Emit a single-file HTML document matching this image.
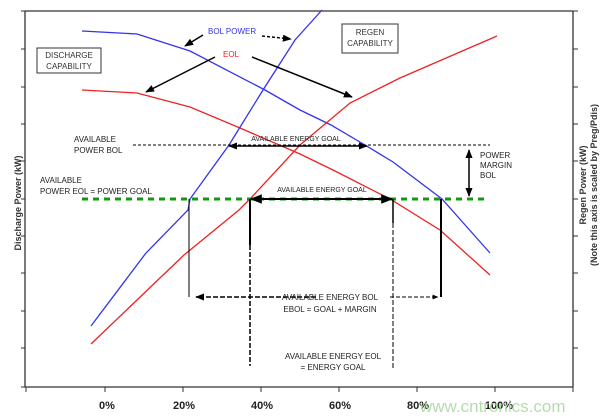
<!DOCTYPE html>
<html><head><meta charset="utf-8"><style>
html,body{margin:0;padding:0;background:#fff}
svg{display:block;font-family:"Liberation Sans",Arial,sans-serif}
</style></head><body>
<svg width="600" height="419" viewBox="0 0 600 419" xmlns="http://www.w3.org/2000/svg">
<defs>
<marker id="ah" viewBox="0 0 10 10" refX="9" refY="5" markerWidth="6" markerHeight="6" orient="auto-start-reverse"><path d="M0,1 L10,5 L0,9 z" fill="#000"/></marker>
</defs>
<!-- axes -->
<g stroke="#333" stroke-width="1.3" fill="none">
<path d="M25,11 H573 M25,11 V387 H573 V11"/>
</g>
<g stroke="#333" stroke-width="1">
<path d="M21,11H25M21,49H25M21,87H25M21,124H25M21,161H25M21,199H25M21,236H25M21,273H25M21,311H25M21,348H25M21,387H25"/>
<path d="M573,11H578M573,49H578M573,87H578M573,124H578M573,161H578M573,199H578M573,236H578M573,273H578M573,311H578M573,348H578"/>
<path d="M26,387V392M105,387V392M183,387V392M261,387V392M339,387V392M417,387V392M495,387V392M573,387V392"/>
</g>
<g font-size="11" font-weight="bold" fill="#222" text-anchor="middle">
<text x="107" y="409">0%</text><text x="184" y="409">20%</text><text x="262" y="409">40%</text>
<text x="340" y="409">60%</text><text x="418" y="409">80%</text><text x="499" y="409">100%</text>
</g>
<text transform="translate(21,203) rotate(-90)" font-size="9" font-weight="bold" fill="#333" text-anchor="middle">Discharge Power (kW)</text>
<text transform="translate(586,185) rotate(-90)" font-size="9" font-weight="bold" fill="#333" text-anchor="middle">Regen Power (kW)</text>
<text transform="translate(597,185) rotate(-90)" font-size="9" font-weight="bold" fill="#333" text-anchor="middle">(Note this axis is scaled by Preg/Pdis)</text>
<!-- curves -->
<g fill="none" stroke-width="1.3">
<polyline stroke="#3333ee" points="82,31 137,34 190,51 265,90 300,110 331,125 365,145 393,162 442,199 490,253"/>
<polyline stroke="#ee2222" points="82,90 137,93 190,107 240,128 300,154 333,170 390,199 440,230 490,275"/>
<polyline stroke="#3333ee" points="91,326 146,253 188,210 190,199 229,145 263,90 295,40 322,10"/>
<polyline stroke="#ee2222" points="91,344 184,255 239,210 250,199 300,145 325,124 350,103 400,78 497,36"/>
</g>
<!-- green goal line -->
<line x1="82" y1="199" x2="487" y2="199" stroke="#119911" stroke-width="3" stroke-dasharray="6,5"/>
<!-- power bol dashed -->
<line x1="133" y1="145" x2="490" y2="145" stroke="#000" stroke-width="1" stroke-dasharray="3,2"/>
<g stroke="#000" stroke-width="1.5" fill="none" marker-end="url(#ah)">
<line x1="300" y1="146" x2="229" y2="146"/>
<line x1="300" y1="146" x2="367" y2="146"/>
<line x1="320" y1="199" x2="251" y2="199" stroke-width="2"/>
<line x1="320" y1="199" x2="392" y2="199" stroke-width="2"/>
<line x1="469" y1="172" x2="469" y2="150"/>
<line x1="469" y1="172" x2="469" y2="196"/>
<line x1="203" y1="35" x2="185" y2="46"/>
<line x1="262" y1="36" x2="291" y2="39" stroke-dasharray="3,2"/>
<line x1="215" y1="57" x2="146" y2="92"/>
<line x1="252" y1="57" x2="352" y2="97"/>
</g>
<!-- verticals -->
<g stroke="#000" fill="none">
<line x1="189" y1="199" x2="189" y2="297" stroke-width="1"/>
<line x1="250" y1="199" x2="250" y2="245" stroke-width="2"/>
<line x1="250" y1="245" x2="250" y2="366" stroke-width="1.5" stroke-dasharray="5,2"/>
<line x1="393" y1="199" x2="393" y2="223" stroke-width="1.5"/>
<line x1="393" y1="223" x2="393" y2="368" stroke-width="1" stroke-dasharray="5,2"/>
<line x1="441" y1="199" x2="441" y2="297" stroke-width="2"/>
<line x1="316" y1="297" x2="196" y2="297" stroke-width="1.5" stroke-dasharray="5,2" marker-end="url(#ah)"/>
<line x1="390" y1="297" x2="438" y2="297" stroke-width="1" stroke-dasharray="4,2" marker-end="url(#ah)"/>
</g>
<!-- boxes -->
<rect x="37" y="48" width="64" height="25" fill="#fff" stroke="#333" stroke-width="1"/>
<text x="69" y="58" font-size="8" fill="#333" text-anchor="middle">DISCHARGE</text>
<text x="69" y="69" font-size="8" fill="#333" text-anchor="middle">CAPABILITY</text>
<rect x="342" y="24" width="56" height="29" fill="#fff" stroke="#333" stroke-width="1"/>
<text x="370" y="35" font-size="8" fill="#333" text-anchor="middle">REGEN</text>
<text x="370" y="46" font-size="8" fill="#333" text-anchor="middle">CAPABILITY</text>
<!-- labels -->
<g font-size="8" fill="#222">
<text x="208" y="34" fill="#3333ee">BOL POWER</text>
<text x="223" y="57" fill="#ee2222">EOL</text>
<text x="74" y="142">AVAILABLE</text>
<text x="74" y="153">POWER  BOL</text>
<text x="40" y="183">AVAILABLE</text>
<text x="40" y="194">POWER  EOL  = POWER GOAL</text>
<text x="296" y="141" text-anchor="middle" font-size="7">AVAILABLE ENERGY GOAL</text>
<text x="322" y="192" text-anchor="middle" font-size="7">AVAILABLE ENERGY GOAL</text>
<text x="480" y="158">POWER</text>
<text x="480" y="168">MARGIN</text>
<text x="480" y="178">BOL</text>
<text x="330" y="300" text-anchor="middle">AVAILABLE ENERGY BOL</text>
<text x="330" y="312" text-anchor="middle">EBOL = GOAL + MARGIN</text>
<text x="333" y="359" text-anchor="middle">AVAILABLE ENERGY EOL</text>
<text x="333" y="370" text-anchor="middle">= ENERGY GOAL</text>
</g>
<text x="420" y="412" font-size="17" fill="#a8d8a0" opacity="0.85">www.cntronics.com</text>
</svg>
</body></html>
